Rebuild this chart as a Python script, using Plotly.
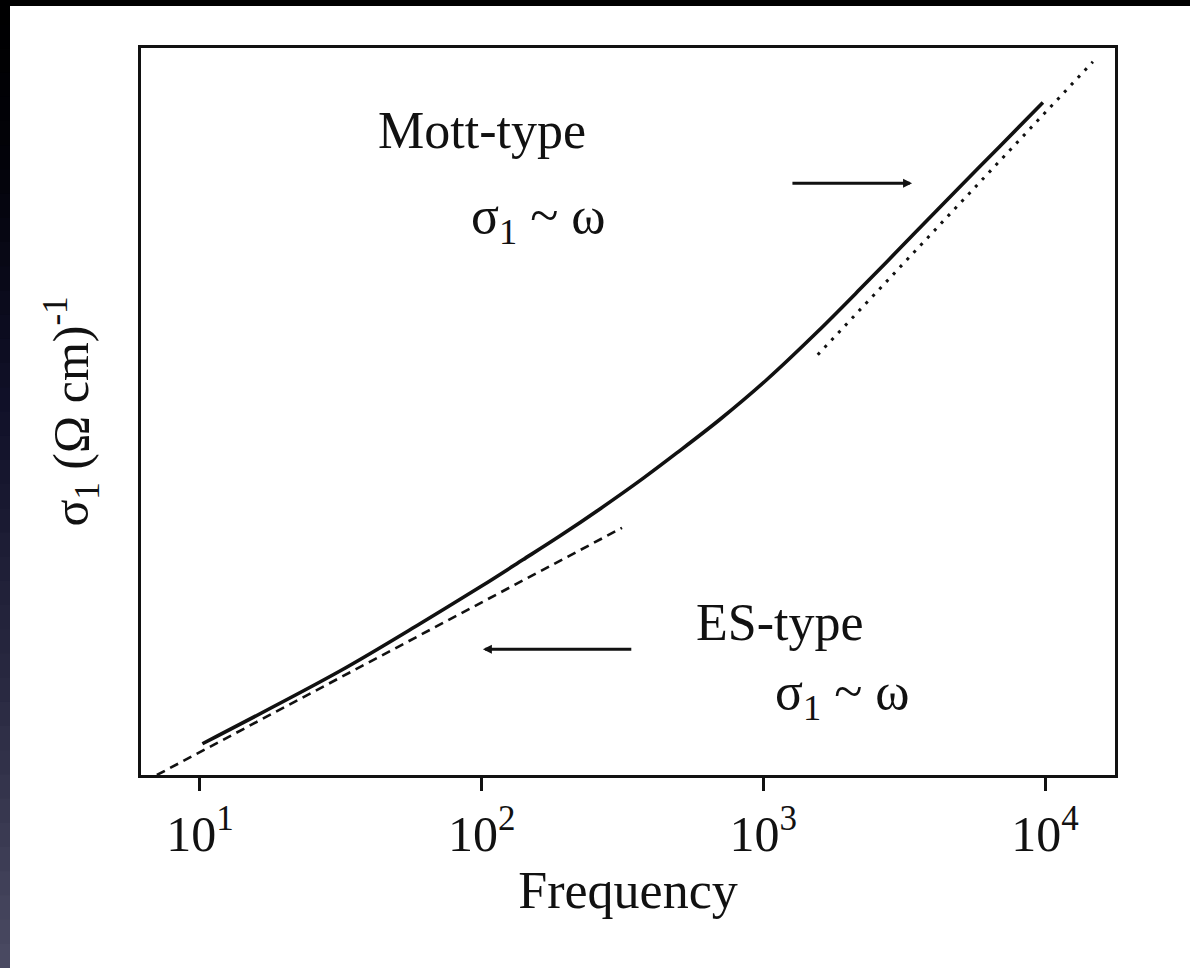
import numpy as np
import plotly.graph_objects as go

# ---------------- data ----------------
freq_measured = [10.2, 31.4, 60.4, 101, 140, 190, 263, 374, 493, 701,
                 1030, 1560, 2200, 3400, 4990, 6920, 9830]
sigma_measured = [0.43, 1.43, 2.08, 2.61, 2.96, 3.29, 3.66, 4.08, 4.43, 4.89,
                  5.44, 6.10, 6.68, 7.43, 8.09, 8.65, 9.25]

freq_es_fit = [7.03, 315]
sigma_es_fit = [0.0, 3.40]

freq_mott_fit = [1560, 14790]
sigma_mott_fit = [5.78, 9.81]

mott_arrow_f = [1253, 3373]   # tail, head
mott_arrow_sigma = 8.14
es_arrow_f = [344, 101]       # tail, head
es_arrow_sigma = 1.73

tick_vals = [10, 100, 1000, 10000]
tick_text = ["10<sup>1</sup>", "10<sup>2</sup>", "10<sup>3</sup>", "10<sup>4</sup>"]

# ---------------- layout constants ----------------
W, H = 1190, 968
ML, MR, MT, MB = 141, 75, 48, 193
PW, PH = W - ML - MR, H - MT - MB
FONT = "Liberation Serif, Times New Roman, serif"
INK = "#111111"


def px_to_paper(px, py):
    return (px - ML) / PW, (H - MB - py) / PH


fig = go.Figure()

fig.add_trace(go.Scatter(x=freq_es_fit, y=sigma_es_fit, mode="lines",
                         line=dict(color=INK, width=2.6, dash="9px,6px"),
                         hoverinfo="skip", showlegend=False))
fig.add_trace(go.Scatter(x=freq_mott_fit, y=sigma_mott_fit, mode="lines",
                         line=dict(color=INK, width=3, dash="3px,7px"),
                         hoverinfo="skip", showlegend=False))
fig.add_trace(go.Scatter(x=freq_measured, y=sigma_measured, mode="lines",
                         line=dict(color=INK, width=3.6, shape="spline", smoothing=0.9),
                         showlegend=False))

# ---------------- frame decorations (black top strip, dark left strip) ----------------
shapes = []
x0, y0 = px_to_paper(0, 0)
x1, y1 = px_to_paper(W, 6)
shapes.append(dict(type="rect", xref="paper", yref="paper", x0=x0, x1=x1, y0=y1, y1=y0,
                   fillcolor="#000000", line=dict(width=0), layer="above"))
stops = [(0, (0, 0, 0)), (150, (2, 2, 8)), (400, (16, 16, 40)), (700, (42, 42, 66)), (968, (74, 74, 98))]
nb = 40
for i in range(nb):
    ya, yb = H * i / nb, H * (i + 1) / nb
    ym = (ya + yb) / 2
    for (sa, ca), (sb, cb) in zip(stops[:-1], stops[1:]):
        if sa <= ym <= sb:
            t = (ym - sa) / (sb - sa)
            c = tuple(int(round(ca[k] + t * (cb[k] - ca[k]))) for k in range(3))
            break
    xa, pya = px_to_paper(0, ya)
    xb, pyb = px_to_paper(10, yb + 1)
    shapes.append(dict(type="rect", xref="paper", yref="paper", x0=xa, x1=xb, y0=pyb, y1=pya,
                       fillcolor="rgb(%d,%d,%d)" % c, line=dict(width=0), layer="above"))

# ---------------- annotations ----------------
ann = []


def label(text, px, py):
    xp, yp = px_to_paper(px, py)
    ann.append(dict(text=text, xref="paper", yref="paper", x=xp, y=yp, xanchor="left",
                    yanchor="middle", showarrow=False, font=dict(family=FONT, size=52, color=INK)))


label("Mott-type", 376, 130)
label("σ<sub>1</sub> ~ ω", 469, 220)
label("ES-type", 694, 622)
label("σ<sub>1</sub> ~ ω", 773, 695)

for f_pair, s in ((mott_arrow_f, mott_arrow_sigma), (es_arrow_f, es_arrow_sigma)):
    ann.append(dict(x=np.log10(f_pair[1]), y=s, ax=np.log10(f_pair[0]), ay=s,
                    xref="x", yref="y", axref="x", ayref="y", text="", showarrow=True,
                    arrowhead=2, arrowsize=0.6, arrowwidth=3, arrowcolor=INK, standoff=0))

x_lo = 1 - (200 - ML) / 281.7
x_hi = 4 + (ML + PW - 1045) / 281.7

fig.update_layout(
    width=W, height=H, margin=dict(l=ML, r=MR, t=MT, b=MB),
    paper_bgcolor="white", plot_bgcolor="white",
    font=dict(family=FONT, color=INK),
    shapes=shapes, annotations=ann, showlegend=False,
    xaxis=dict(type="log", range=[x_lo, x_hi], showgrid=False, zeroline=False,
               showline=True, linecolor=INK, linewidth=3, mirror=True,
               ticks="outside", ticklen=13, tickwidth=3, tickcolor=INK,
               tickvals=tick_vals, ticktext=tick_text, ticklabelstandoff=0,
               tickfont=dict(family=FONT, size=50, color=INK),
               title=dict(text="Frequency", font=dict(family=FONT, size=52, color=INK), standoff=9)),
    yaxis=dict(range=[0, 10], showgrid=False, zeroline=False,
               showline=True, linecolor=INK, linewidth=3, mirror=True,
               ticks="", showticklabels=False,
               title=dict(text="σ<sub>1</sub> (Ω cm)<sup>-1</sup>",
                          font=dict(family=FONT, size=50, color=INK), standoff=34)),
)

fig.write_html("out.html")
